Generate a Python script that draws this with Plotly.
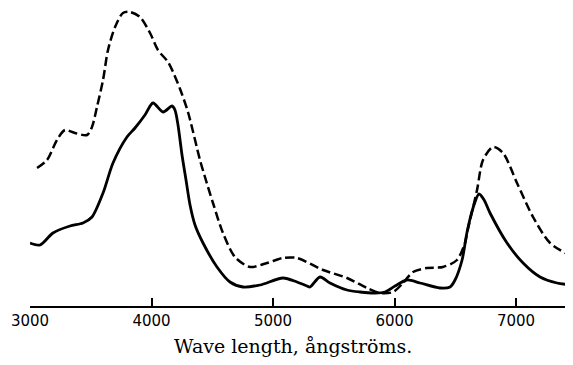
import plotly.graph_objects as go

# Wavelength (Å) and relative absorption
solid_wavelength = [3000, 3082, 3189, 3329, 3436, 3510, 3601, 3683, 3798, 3864, 3946, 4012,
                    4095, 4169, 4193, 4218, 4251, 4284, 4317, 4358, 4424, 4539, 4646, 4753,
                    4893, 5082, 5197, 5280, 5305, 5387, 5469, 5609, 5716, 5840, 5922, 6004,
                    6103, 6210, 6374, 6457, 6498, 6556, 6597, 6646, 6695, 6737, 6786, 6926,
                    7058, 7198, 7337, 7469]
solid_absorption = [63, 61, 73, 80, 83, 89, 113, 143, 169, 178, 191, 203,
                    194, 200, 196, 181, 151, 126, 101, 81, 63, 39, 24, 19,
                    21, 28, 24, 20, 19, 29, 23, 16, 14, 13, 14, 20,
                    26, 23, 18, 19, 26, 46, 74, 98, 112, 106, 93, 63,
                    43, 29, 23, 21]

dashed_wavelength = [3058, 3140, 3222, 3288, 3370, 3469, 3510, 3551, 3601, 3642, 3700, 3765,
                     3823, 3905, 3988, 4053, 4136, 4177, 4235, 4300, 4399, 4440, 4506, 4588,
                     4687, 4811, 4951, 5082, 5197, 5412, 5609, 5774, 5881, 5988, 6070, 6152,
                     6267, 6399, 6514, 6580, 6597, 6679, 6728, 6811, 6893, 7008, 7140, 7280,
                     7469]
dashed_absorption = [138, 146, 166, 176, 173, 171, 179, 199, 226, 256, 279, 293,
                     294, 289, 273, 256, 244, 234, 217, 194, 146, 129, 103, 73,
                     49, 39, 43, 48, 48, 36, 28, 18, 13, 14, 23, 34,
                     38, 39, 46, 63, 73, 116, 146, 159, 153, 123, 89, 63,
                     49]

tick_values = [3000, 4000, 5000, 6000, 7000]
tick_labels = ["3000", "4000", "5000", "6000", "7000"]
x_title = "Wave length, ångströms."

fig = go.Figure()
fig.add_trace(go.Scatter(x=dashed_wavelength, y=dashed_absorption, mode="lines",
                         line=dict(color="black", width=2.5, dash="9px,4px",
                                   shape="spline", smoothing=0.8),
                         showlegend=False, hoverinfo="skip"))
fig.add_trace(go.Scatter(x=solid_wavelength, y=solid_absorption, mode="lines",
                         line=dict(color="black", width=2.8, shape="spline", smoothing=0.8),
                         showlegend=False, hoverinfo="skip"))

# the page body adds an 8px margin, so the figure is sized to fit without overflow
fig.update_layout(
    width=557, height=349,
    margin=dict(l=22, r=0, t=0, b=51),
    paper_bgcolor="white", plot_bgcolor="white",
    xaxis=dict(range=[3000, 7403], tickvals=tick_values, ticktext=tick_labels,
               showgrid=False, zeroline=False, showline=True, linecolor="black",
               linewidth=2, ticks="inside", ticklen=8, tickwidth=1.5, tickcolor="black",
               tickfont=dict(family="DejaVu Sans", size=15, color="black")),
    yaxis=dict(range=[0, 298], visible=False, showgrid=False, zeroline=False),
    annotations=[dict(text=x_title, xref="x", yref="paper", x=5165, y=-0.1342,
                      xanchor="center", yanchor="middle", showarrow=False,
                      font=dict(family="DejaVu Serif", size=19, color="black"))],
)

fig.write_html("out.html")
